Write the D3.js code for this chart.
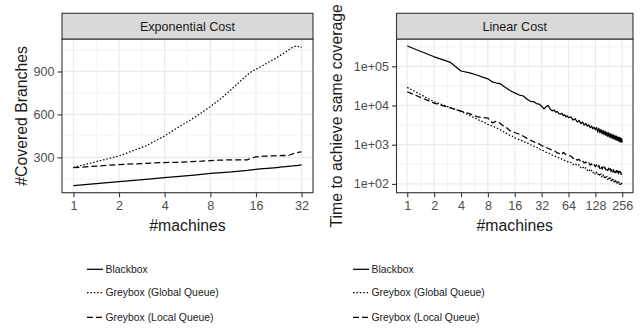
<!DOCTYPE html>
<html>
<head>
<meta charset="utf-8">
<script src="https://cdn.jsdelivr.net/npm/d3@7"></script>
<style>
  html, body { margin: 0; padding: 0; background: #ffffff; }
  svg { display: block; }
  text { font-family: "Liberation Sans", Arial, Helvetica, sans-serif; fill: #1a1a1a; }
</style>
</head>
<body>
<svg id="chart" width="644" height="330"></svg>
<script>
// ---- Series names and line styles ----
const seriesNames = ["Blackbox", "Greybox (Global Queue)", "Greybox (Local Queue)"];

// ---- Exponential cost: covered branches per machine count ----
const expMachines = [1,2,3,4,5,6,7,8,9,10,11,12,13,14,15,16,17,18,19,20,21,22,23,24,25,26,27,28,29,30,31,32];
const expBlackbox = [102,130,146,158,167,175,182,188,192,196,199,203,206,209,213,216,219,221,223,225,227,229,231,233,235,237,239,240,242,243,245,247];
const expGlobal   = [230,310,380,450,515,565,612,655,695,735,775,810,845,875,900,915,930,945,960,972,985,998,1010,1022,1035,1048,1058,1070,1075,1078,1068,1072];
const expLocal    = [228,250,258,264,266,270,273,277,280,282,283,283,282,283,295,304,306,308,309,310,311,312,313,314,312,311,318,325,330,334,337,339];
const expXTicks = [1,2,4,8,16,32];
const expYTicks = [300,600,900];
const expYMinor = [150,450,750,1050];

// ---- Linear cost: time to reach the same coverage ----
const linMachines = [
  1,2,3,4,5,6,7,8,9,10,11,12,13,14,15,16,
  18,20,22,24,26,28,30,32,34,36,38,40,42,44,46,48,50,52,54,56,58,60,62,64,
  68,72,76,80,84,88,92,96,100,104,108,112,116,120,124,128,
  132,136,140,144,148,152,156,160,164,168,172,176,180,184,188,192,
  196,200,204,208,212,216,220,224,228,232,236,240,244,248,252,256
];
const linBlackbox = [
  330000,175000,128000,76000,68000,60000,53000,48000,40000,37500,36000,31000,27500,24500,22500,21000,
  18500,17500,14500,12800,12600,11200,10900,9600,8200,9400,10000,8000,7300,7700,6800,7000,6200,6000,6300,5500,5800,5150,5450,4900,
  5100,4250,4600,3800,4150,3450,3800,3150,3500,2950,3250,2700,3000,2550,2800,2400,
  2750,2100,2600,2000,2450,1900,2330,1800,2220,1720,2100,1640,2020,1570,1930,1500,
  1850,1440,1780,1390,1710,1340,1650,1290,1590,1250,1540,1200,1490,1170,1440,1150
];
const linGlobal = [
  29000,12500,9000,7000,5600,4500,3900,3300,3000,2700,2400,2150,1950,1750,1650,1500,
  1350,1200,1120,1000,920,870,780,740,690,640,620,580,545,530,500,490,460,445,430,410,400,380,375,355,
  355,310,330,290,305,262,280,240,258,222,240,205,222,193,208,180,
  200,168,190,158,180,150,170,142,162,137,155,130,148,126,143,120,
  136,116,131,111,126,107,121,103,117,100,112,97,109,93,104,90
];
const linLocal = [
  22500,11500,8800,7200,6200,5200,4900,4800,3600,4000,3500,3000,2700,2300,2200,2050,
  1850,1650,1450,1300,1200,1100,1050,950,900,850,800,760,720,700,660,620,600,570,560,640,600,560,530,520,
  520,450,465,400,425,365,390,340,362,318,342,300,326,285,310,275,
  305,255,295,245,285,238,275,232,268,225,260,218,252,212,245,207,
  238,202,232,197,226,193,220,188,215,184,210,180,206,176,201,172
];
const linXTicks = [1,2,4,8,16,32,64,128,256];
const linYTicks = [100,1000,10000,100000];
const linYLabels = ["1e+02","1e+03","1e+04","1e+05"];

const dashes = { "Blackbox": null, "Greybox (Global Queue)": "1.5,1.9", "Greybox (Local Queue)": "6,3" };

const svg = d3.select("#chart");
const gridCol = "#EBEBEB", frameCol = "#333333";

function expandLog(lo, hi, base) {
  const a = Math.log(lo) / Math.log(base), b = Math.log(hi) / Math.log(base);
  const pad = (b - a) * 0.05;
  return [Math.pow(base, a - pad), Math.pow(base, b + pad)];
}
function expandLin(lo, hi) {
  const pad = (hi - lo) * 0.05;
  return [lo - pad, hi + pad];
}

function drawPanel(cfg) {
  const { x0, x1, yStrip, y0, y1 } = cfg;
  const g = svg.append("g");
  const x = cfg.x, y = cfg.y;

  // panel background + grid
  g.append("rect").attr("x", x0).attr("y", y0).attr("width", x1 - x0).attr("height", y1 - y0).attr("fill", "#fff");
  cfg.xMinor.forEach(v => g.append("line").attr("x1", x(v)).attr("x2", x(v)).attr("y1", y0).attr("y2", y1)
    .attr("stroke", gridCol).attr("stroke-width", 0.6));
  cfg.yMinor.forEach(v => g.append("line").attr("x1", x0).attr("x2", x1).attr("y1", y(v)).attr("y2", y(v))
    .attr("stroke", gridCol).attr("stroke-width", 0.6));
  cfg.xTicks.forEach(v => g.append("line").attr("x1", x(v)).attr("x2", x(v)).attr("y1", y0).attr("y2", y1)
    .attr("stroke", gridCol).attr("stroke-width", 1.2));
  cfg.yTicks.forEach(v => g.append("line").attr("x1", x0).attr("x2", x1).attr("y1", y(v)).attr("y2", y(v))
    .attr("stroke", gridCol).attr("stroke-width", 1.2));

  // data lines
  const clipId = "clip" + cfg.id;
  svg.append("clipPath").attr("id", clipId).append("rect")
    .attr("x", x0).attr("y", y0).attr("width", x1 - x0).attr("height", y1 - y0);
  const line = d3.line().x(d => x(d[0])).y(d => y(d[1]));
  cfg.series.forEach(s => {
    const pts = cfg.machines.map((m, i) => [m, s.values[i]]);
    g.append("path").attr("d", line(pts)).attr("fill", "none")
      .attr("stroke", "#000").attr("stroke-width", 1.25)
      .attr("stroke-linejoin", "round")
      .attr("stroke-dasharray", dashes[s.name])
      .attr("clip-path", `url(#${clipId})`);
  });

  // panel frame
  g.append("rect").attr("x", x0).attr("y", y0).attr("width", x1 - x0).attr("height", y1 - y0)
    .attr("fill", "none").attr("stroke", frameCol).attr("stroke-width", 1.1);

  // strip
  g.append("rect").attr("x", x0).attr("y", yStrip).attr("width", x1 - x0).attr("height", y0 - yStrip)
    .attr("fill", "#D9D9D9").attr("stroke", frameCol).attr("stroke-width", 1.1);
  g.append("text").attr("x", (x0 + x1) / 2).attr("y", (yStrip + y0) / 2).attr("dy", "0.35em")
    .attr("text-anchor", "middle").attr("font-size", 12.6).style("fill", "#1a1a1a").text(cfg.title);

  // x axis
  const xa = g.append("g").attr("transform", `translate(0,${y1})`)
    .call(d3.axisBottom(x).tickValues(cfg.xTicks).tickFormat(d3.format("d")).tickSize(4.5).tickPadding(3));
  xa.select(".domain").remove();
  xa.selectAll(".tick line").attr("stroke", frameCol).attr("stroke-width", 1.1);
  xa.selectAll(".tick text").attr("font-size", 12.6).attr("font-family", null).attr("dy", null)
    .attr("y", 17.3).style("fill", "#4d4d4d").attr("fill", null);

  // y axis
  const ya = g.append("g").attr("transform", `translate(${x0},0)`)
    .call(d3.axisLeft(y).tickValues(cfg.yTicks).tickFormat((d, i) => cfg.yLabels[i]).tickSize(4.5).tickPadding(3));
  ya.select(".domain").remove();
  ya.selectAll(".tick line").attr("stroke", frameCol).attr("stroke-width", 1.1);
  ya.selectAll(".tick text").attr("font-size", 12.6).attr("font-family", null).style("fill", "#4d4d4d").attr("fill", null);

  // axis titles
  g.append("text").attr("x", (x0 + x1) / 2).attr("y", 230.5).attr("text-anchor", "middle")
    .attr("font-size", 15.8).text("#machines");
  g.append("text").attr("transform", `translate(${cfg.yTitleX},${(y0 + y1) / 2}) rotate(-90)`)
    .attr("text-anchor", "middle").attr("font-size", 15.8).text(cfg.yTitle);

  // legend
  const lg = g.append("g");
  seriesNames.forEach((name, i) => {
    const cy = cfg.legendY[i];
    lg.append("line").attr("x1", cfg.legendX).attr("x2", cfg.legendX + 16).attr("y1", cy).attr("y2", cy)
      .attr("stroke", "#000").attr("stroke-width", 1.25).attr("stroke-dasharray", dashes[name]);
    lg.append("text").attr("x", cfg.legendX + 18.5).attr("y", cy).attr("dy", "0.35em")
      .attr("font-size", 10.4).text(name);
  });
}

// Exponential cost panel
(function () {
  const x0 = 62, x1 = 313, y0 = 39, y1 = 192.7;
  const allY = expBlackbox.concat(expGlobal, expLocal);
  const x = d3.scaleLog().base(2).domain(expandLog(d3.min(expMachines), d3.max(expMachines), 2)).range([x0, x1]);
  const y = d3.scaleLinear().domain(expandLin(d3.min(allY), d3.max(allY))).range([y1, y0]);
  drawPanel({
    id: "exp", x0, x1, yStrip: 13.3, y0, y1, x, y,
    title: "Exponential Cost",
    machines: expMachines,
    series: [
      { name: seriesNames[0], values: expBlackbox },
      { name: seriesNames[1], values: expGlobal },
      { name: seriesNames[2], values: expLocal }
    ],
    xTicks: expXTicks,
    xMinor: expXTicks.slice(0, -1).map(v => v * Math.SQRT2),
    yTicks: expYTicks, yLabels: expYTicks.map(String), yMinor: expYMinor,
    yTitle: "#Covered Branches", yTitleX: 27,
    legendX: 87, legendY: [269.3, 292.7, 317.3]
  });
})();

// Linear cost panel
(function () {
  const x0 = 396.5, x1 = 633, y0 = 39, y1 = 192.7;
  const allY = linBlackbox.concat(linGlobal, linLocal);
  const x = d3.scaleLog().base(2).domain(expandLog(d3.min(linMachines), d3.max(linMachines), 2)).range([x0, x1]);
  const y = d3.scaleLog().base(10).domain(expandLog(d3.min(allY), d3.max(allY), 10)).range([y1, y0]);
  const yMinor = [100, 1000, 10000, 100000].map(v => v * Math.sqrt(10));
  drawPanel({
    id: "lin", x0, x1, yStrip: 13.3, y0, y1, x, y,
    title: "Linear Cost",
    machines: linMachines,
    series: [
      { name: seriesNames[0], values: linBlackbox },
      { name: seriesNames[1], values: linGlobal },
      { name: seriesNames[2], values: linLocal }
    ],
    xTicks: linXTicks,
    xMinor: linXTicks.slice(0, -1).map(v => v * Math.SQRT2),
    yTicks: linYTicks, yLabels: linYLabels, yMinor: yMinor,
    yTitle: "Time to achieve same coverage", yTitleX: 342,
    legendX: 353, legendY: [269.3, 292.7, 317.3]
  });
})();
</script>
</body>
</html>
